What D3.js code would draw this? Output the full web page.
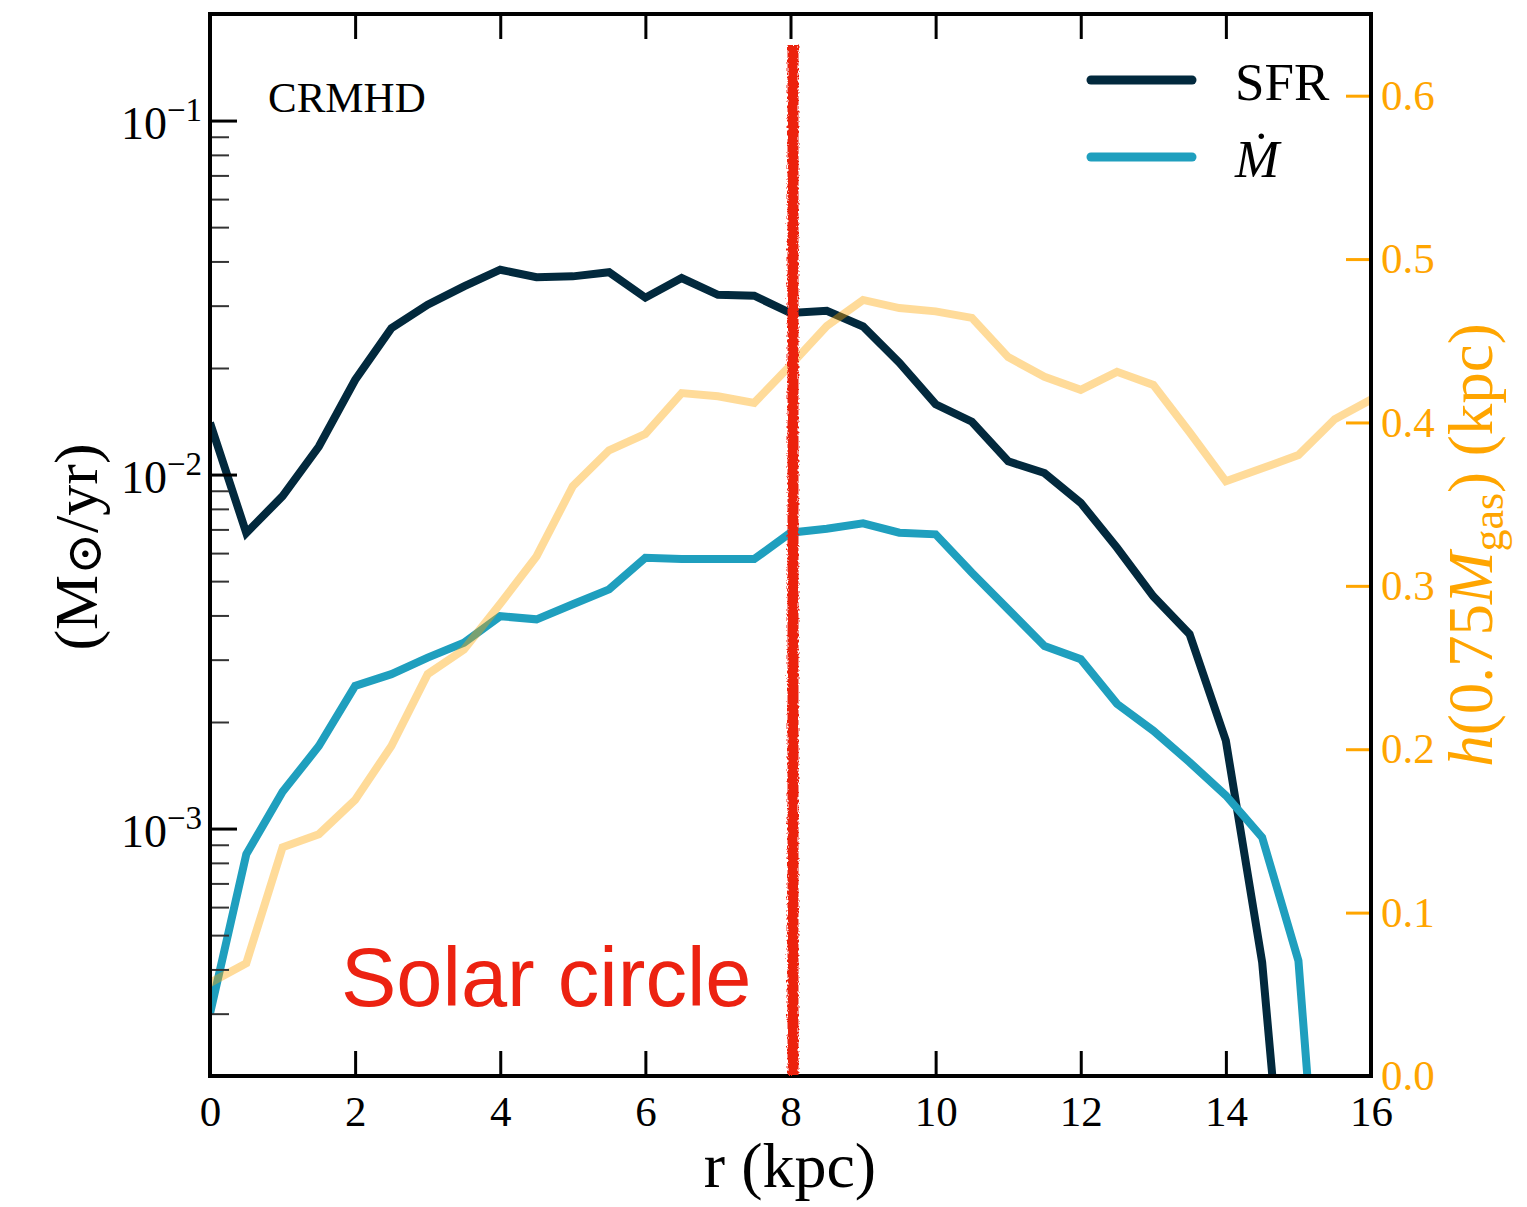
<!DOCTYPE html>
<html>
<head>
<meta charset="utf-8">
<script src="https://cdn.jsdelivr.net/npm/d3@7"></script>
<style>
body { margin: 0; background: #fff; }
text { font-family: "Liberation Serif", "DejaVu Serif", serif; }
</style>
</head>
<body>
<svg id="chart"></svg>
<script>
const width = 1527,
    height = 1207;
const plot = { left: 210, right: 1371, top: 14, bottom: 1076 };

// radius bins (kpc)
const radius = [0, 0.5, 1, 1.5, 2, 2.5, 3, 3.5, 4, 4.5, 5, 5.5, 6, 6.5, 7, 7.5, 8,
    8.5, 9, 9.5, 10, 10.5, 11, 11.5, 12, 12.5, 13, 13.5, 14, 14.5, 15, 15.5, 16];
// SFR (Msun/yr), r = 0 .. 15
const sfr = [0.0140, 0.00684, 0.00869, 0.0120, 0.0185, 0.0259, 0.0302, 0.0340, 0.0379,
    0.0361, 0.0363, 0.0373, 0.0316, 0.0359, 0.0322, 0.0320, 0.0286, 0.0290, 0.0262,
    0.0207, 0.0158, 0.0141, 0.0109, 0.0101, 0.00832, 0.00621, 0.00453, 0.00354,
    0.00177, 0.000419, 0.00003];
// Mdot (Msun/yr), r = 0 .. 15.5
const mdot = [0.000300, 0.000846, 0.00127, 0.00171, 0.00253, 0.00273, 0.00304, 0.00335,
    0.00398, 0.00390, 0.00430, 0.00474, 0.00582, 0.00577, 0.00577, 0.00577, 0.00685,
    0.00703, 0.00728, 0.00685, 0.00678, 0.00528, 0.00416, 0.00328, 0.00301, 0.00225,
    0.00189, 0.00154, 0.00124, 0.000944, 0.000423, 0.00002];
// h(0.75 Mgas) (kpc), r = 0 .. 16
const hgas = [0.057, 0.069, 0.140, 0.148, 0.169, 0.202, 0.246, 0.261, 0.289, 0.318,
    0.361, 0.383, 0.393, 0.418, 0.416, 0.412, 0.435, 0.459, 0.475, 0.470, 0.468, 0.464,
    0.440, 0.428, 0.420, 0.431, 0.423, 0.394, 0.364, 0.372, 0.380, 0.402, 0.414];

const xTicks = [0, 2, 4, 6, 8, 10, 12, 14, 16];
const leftMajor = [1e-3, 1e-2, 1e-1];
const leftExponents = ["\u22123", "\u22122", "\u22121"];
const rightTicks = [0, 0.1, 0.2, 0.3, 0.4, 0.5, 0.6];
const solarRadius = 8;

const sfrColor = "#02293d",
    mdotColor = "#1f9fbe",
    hColor = "orange",
    solarColor = "#ec2211";

const svg = d3.select("svg#chart")
    .attr("width", width)
    .attr("height", height);

const x = d3.scaleLinear().domain([0, 16]).range([plot.left, plot.right]);
const yL = d3.scaleLog().domain([2e-4, 0.2]).range([plot.bottom, plot.top]);
const yR = d3.scaleLinear().domain([0, 0.65]).range([plot.bottom, plot.top]);

svg.append("clipPath").attr("id", "clip")
    .append("rect")
    .attr("x", plot.left).attr("y", plot.top)
    .attr("width", plot.right - plot.left)
    .attr("height", plot.bottom - plot.top);

// rough marker filter for the hand-drawn solar circle line
const filt = svg.append("filter").attr("id", "rough")
    .attr("filterUnits", "userSpaceOnUse")
    .attr("x", 700).attr("y", 0).attr("width", 200).attr("height", 1150);
filt.append("feTurbulence").attr("type", "fractalNoise")
    .attr("baseFrequency", "0.9 0.35").attr("numOctaves", 2).attr("seed", 3)
    .attr("result", "noise");
filt.append("feDisplacementMap").attr("in", "SourceGraphic").attr("in2", "noise")
    .attr("scale", 5).attr("xChannelSelector", "R").attr("yChannelSelector", "G");

const lines = svg.append("g").attr("clip-path", "url(#clip)");
const lineL = d3.line().x((d, i) => x(radius[i])).y(d => yL(d));
const lineR = d3.line().x((d, i) => x(radius[i])).y(d => yR(d));

lines.append("path").datum(sfr)
    .attr("d", lineL).attr("fill", "none")
    .attr("stroke", sfrColor).attr("stroke-width", 8);
lines.append("path").datum(mdot)
    .attr("d", lineL).attr("fill", "none")
    .attr("stroke", mdotColor).attr("stroke-width", 8);
lines.append("path").datum(hgas)
    .attr("d", lineR).attr("fill", "none")
    .attr("stroke", hColor).attr("stroke-opacity", 0.4).attr("stroke-width", 8);

// axes
const styleAxis = (g, color) => {
    g.select(".domain").remove();
    g.selectAll(".tick line").attr("stroke", color).attr("stroke-width", 3);
    g.selectAll(".tick text").attr("fill", color)
        .style("font-family", "'Liberation Serif', serif").style("font-size", "43px");
};

svg.append("g")
    .attr("transform", `translate(0,${plot.bottom})`)
    .call(d3.axisBottom(x).tickValues(xTicks).tickFormat(d3.format("d"))
        .tickSizeInner(-25).tickSizeOuter(0).tickPadding(19))
    .call(g => styleAxis(g, "#000"));

svg.append("g")
    .attr("transform", `translate(0,${plot.top})`)
    .call(d3.axisTop(x).tickValues(xTicks.slice(1, -1)).tickFormat("")
        .tickSizeInner(-25).tickSizeOuter(0))
    .call(g => styleAxis(g, "#000"));

const minor = yL.ticks().filter(v => !leftMajor.includes(v) && v > 2.01e-4 && v < 0.199);
svg.append("g")
    .attr("transform", `translate(${plot.left},0)`)
    .call(d3.axisLeft(yL).tickValues(minor).tickFormat("")
        .tickSizeInner(-19).tickSizeOuter(0))
    .call(g => {
        g.select(".domain").remove();
        g.selectAll(".tick line").attr("stroke", "#333").attr("stroke-width", 2);
    });

const leftAxis = svg.append("g")
    .attr("transform", `translate(${plot.left},0)`)
    .call(d3.axisLeft(yL).tickValues(leftMajor).tickFormat("")
        .tickSizeInner(-27).tickSizeOuter(0).tickPadding(8))
    .call(g => styleAxis(g, "#000"));
leftAxis.selectAll(".tick text")
    .attr("dy", "0.38em")
    .style("font-size", "46px")
    .each(function (d, i) {
        const t = d3.select(this).text(null);
        t.append("tspan").text("10");
        t.append("tspan").attr("dy", -18).style("font-size", "33px").text(leftExponents[i]);
    });

svg.append("g")
    .attr("transform", `translate(${plot.right},0)`)
    .call(d3.axisRight(yR).tickValues(rightTicks).tickFormat(d3.format(".1f"))
        .tickSizeInner(-25).tickSizeOuter(0).tickPadding(10))
    .call(g => styleAxis(g, hColor));

// frame
svg.append("rect")
    .attr("x", plot.left).attr("y", plot.top)
    .attr("width", plot.right - plot.left)
    .attr("height", plot.bottom - plot.top)
    .attr("fill", "none").attr("stroke", "#000").attr("stroke-width", 4);

// solar circle marker
svg.append("rect")
    .attr("x", x(solarRadius) - 3).attr("y", 45)
    .attr("width", 11).attr("height", plot.bottom - 46)
    .attr("fill", solarColor)
    .attr("filter", "url(#rough)");

svg.append("text")
    .attr("x", x(solarRadius) - 39).attr("y", 1006)
    .attr("text-anchor", "end")
    .style("font-family", "'Liberation Sans', Arial, sans-serif")
    .style("font-size", "83px")
    .attr("fill", solarColor)
    .text("Solar circle");

svg.append("text")
    .attr("x", 268).attr("y", 112)
    .style("font-size", "43px")
    .text("CRMHD");

// legend
const legend = [
    { label: "SFR", color: sfrColor, y: 80, italic: false },
    { label: "\u1E40", color: mdotColor, y: 157, italic: true },
];
const leg = svg.append("g").selectAll("g").data(legend).enter().append("g");
leg.append("line")
    .attr("x1", 1091).attr("x2", 1192)
    .attr("y1", d => d.y).attr("y2", d => d.y)
    .attr("stroke", d => d.color).attr("stroke-width", 9)
    .attr("stroke-linecap", "round");
leg.append("text")
    .attr("x", 1235).attr("y", d => d.y + 20)
    .style("font-size", "53px")
    .style("font-style", d => d.italic ? "italic" : "normal")
    .text(d => d.label);

// axis titles
svg.append("text")
    .attr("x", 790).attr("y", 1187)
    .attr("text-anchor", "middle")
    .style("font-size", "64px")
    .text("r (kpc)");

const yTitle = svg.append("text")
    .attr("transform", "translate(97,547) rotate(-90)")
    .attr("text-anchor", "middle")
    .style("font-size", "62px");
yTitle.append("tspan").text("(M");
yTitle.append("tspan").attr("dy", 4).style("font-size", "50px").text("\u2299");
yTitle.append("tspan").attr("dy", -4).text("/yr)");

const hTitle = svg.append("text")
    .attr("transform", "translate(1492,545) rotate(-90)")
    .attr("text-anchor", "middle")
    .attr("fill", hColor)
    .style("font-size", "63px");
hTitle.append("tspan").style("font-style", "italic").text("h");
hTitle.append("tspan").text("(0.75");
hTitle.append("tspan").style("font-style", "italic").text("M");
hTitle.append("tspan").attr("dy", 11).style("font-size", "44px").text("gas");
hTitle.append("tspan").attr("dy", -11).text(") (kpc)");
</script>
</body>
</html>
